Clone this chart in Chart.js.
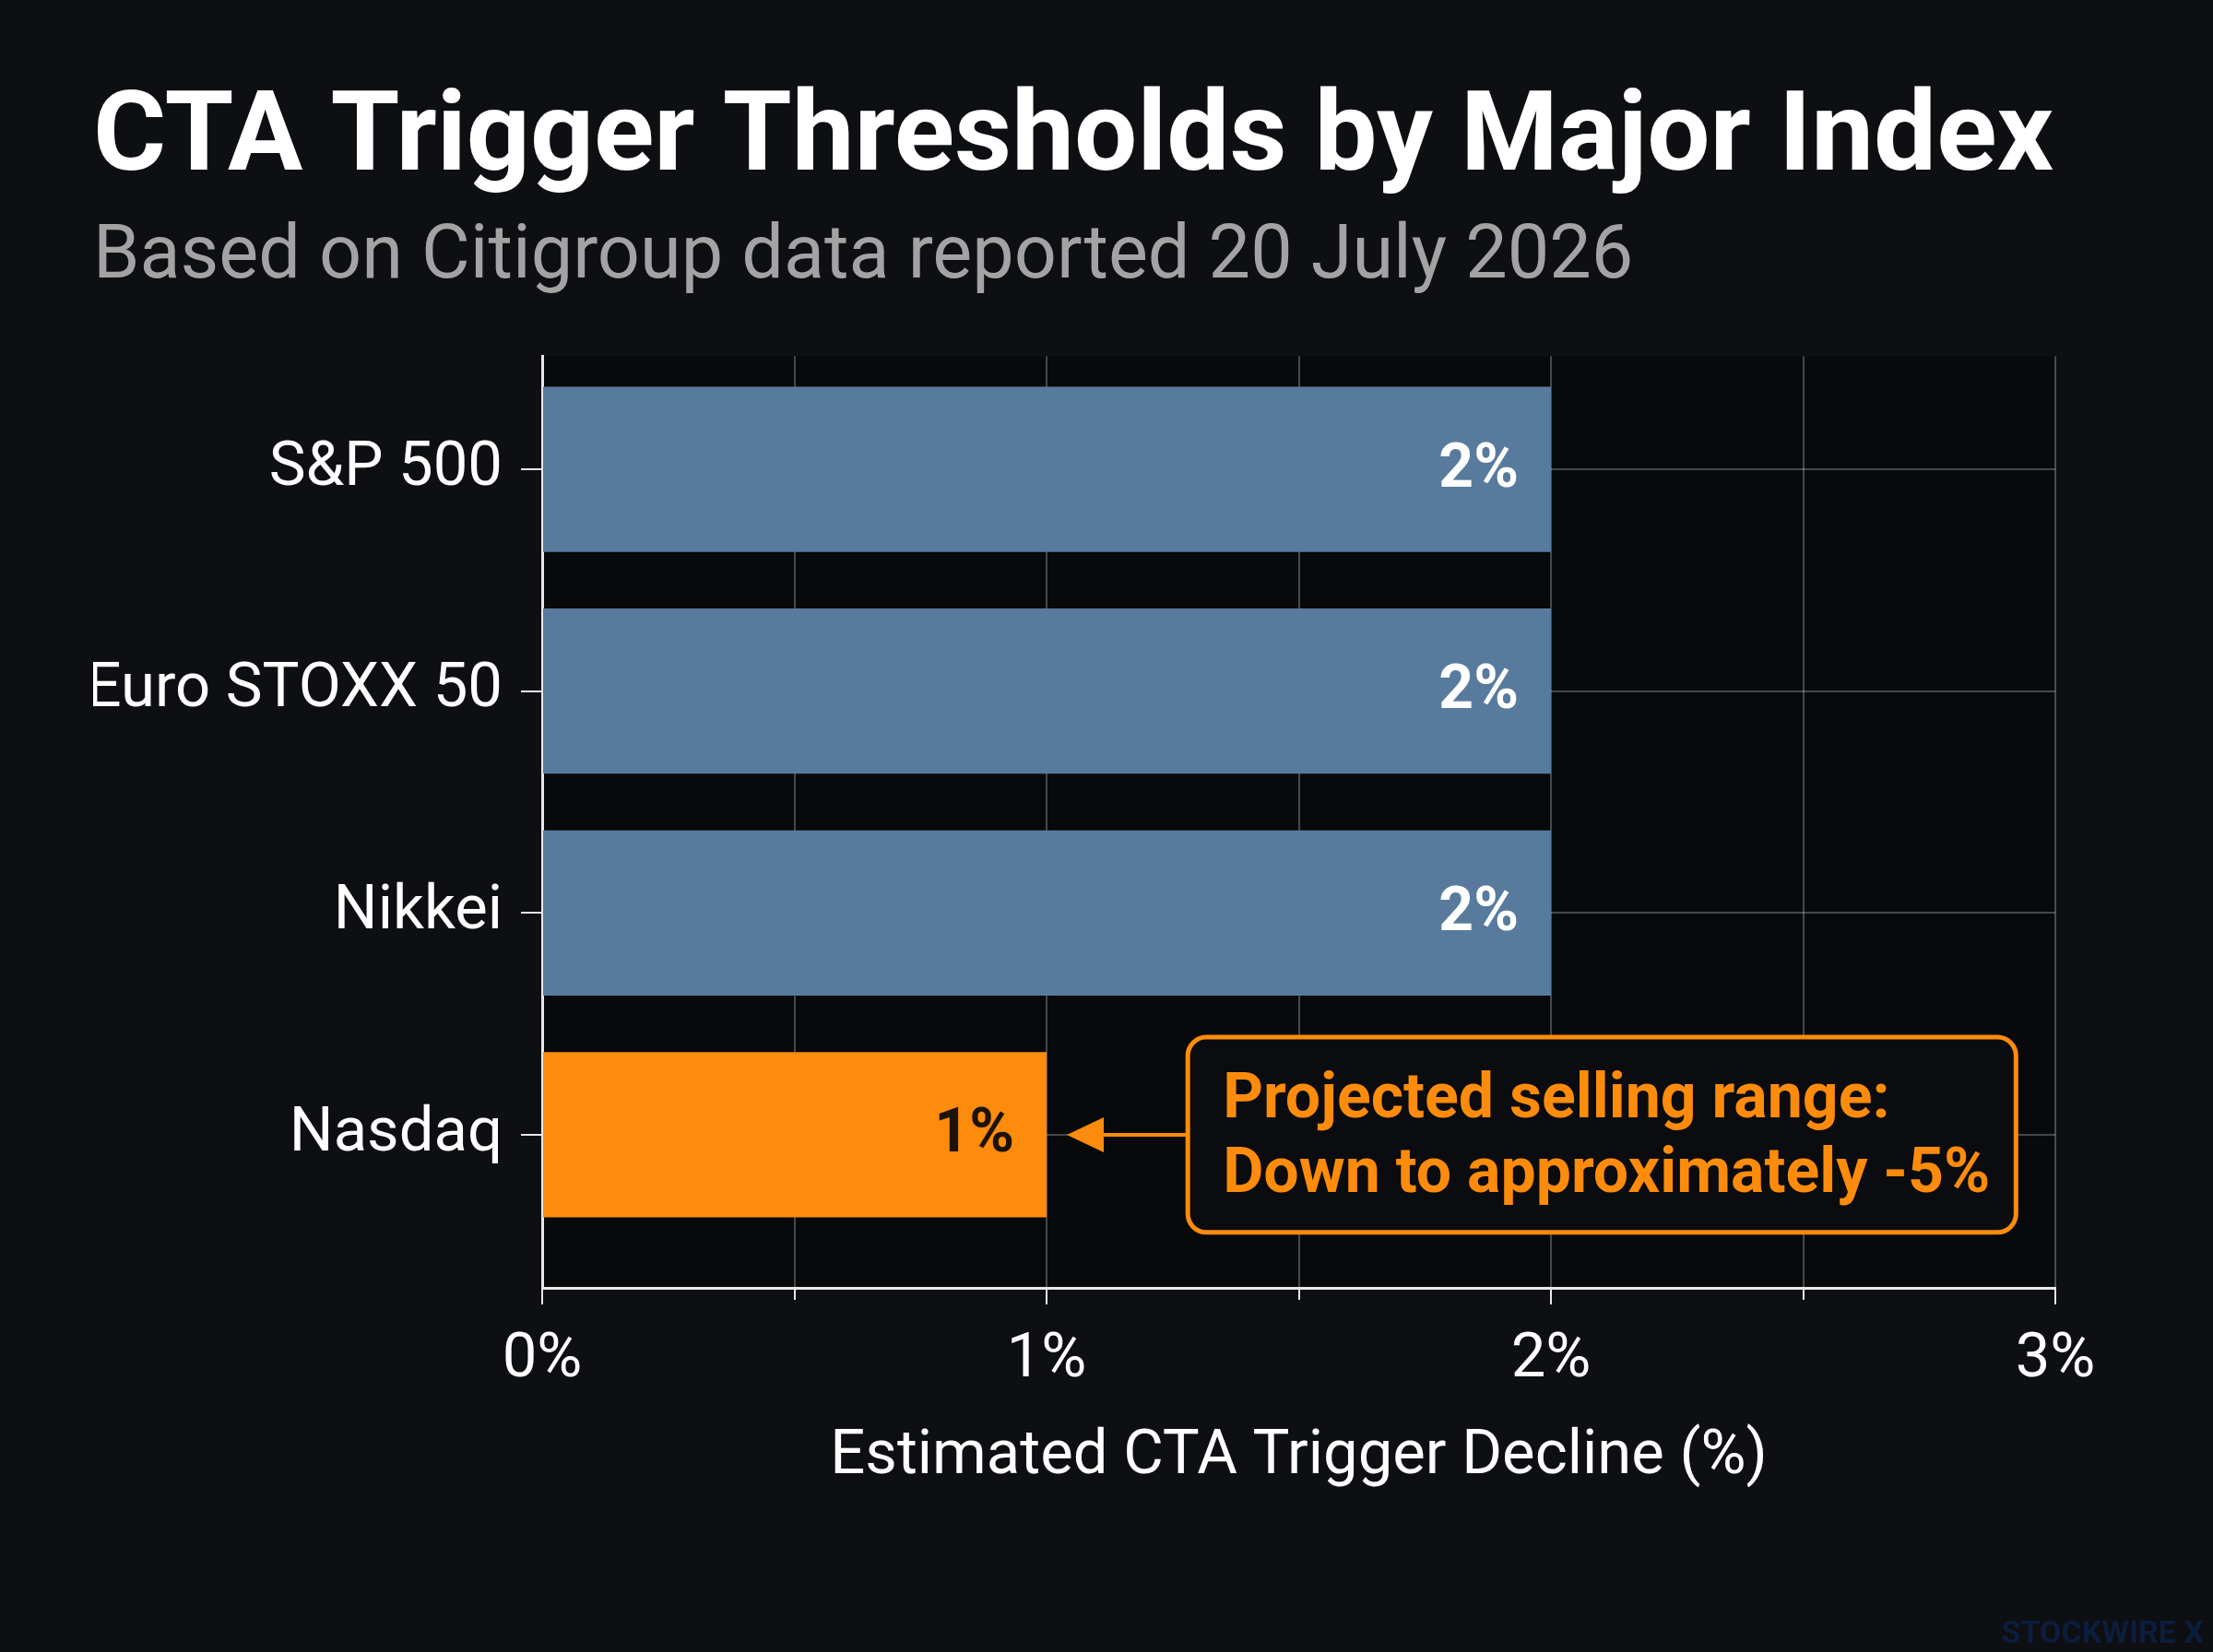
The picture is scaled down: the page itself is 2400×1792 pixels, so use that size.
<!DOCTYPE html>
<html>
<head>
<meta charset="utf-8">
<script src="https://cdn.jsdelivr.net/npm/chart.js@4.4.1/dist/chart.umd.min.js"></script>
<style>
  html, body { margin: 0; padding: 0; background: #0d0f13; }
  #wrap { width: 2400px; height: 1792px; position: relative; }
</style>
</head>
<body>
<div id="wrap"><canvas id="ctaChart"></canvas></div>
<script>
// Daten
const indices = ['S&P 500', 'Euro STOXX 50', 'Nikkei', 'Nasdaq'];
const thresholds = [2, 2, 2, 1];
const xTicks = [0, 0.5, 1, 1.5, 2, 2.5, 3];
const calloutLines = ['Projected selling range:', 'Down to approximately -5%'];

const BLUE = '#587b9d';
const ORANGE = '#fd8b0c';
const barColors = thresholds.map((v, i) => i === indices.length - 1 ? ORANGE : BLUE);
const labelColors = thresholds.map((v, i) => i === indices.length - 1 ? '#1c1206' : '#ffffff');

Chart.defaults.font.family = 'Roboto';
Chart.defaults.color = '#ffffff';

// Hintergrund
const bgPlugin = {
    id: 'bg',
    beforeDraw(chart) {
        const ctx = chart.ctx;
        ctx.save();
        ctx.fillStyle = '#0d0f13';
        ctx.fillRect(0, 0, chart.width, chart.height);
        const a = chart.chartArea;
        ctx.fillStyle = 'rgba(0,0,0,0.4)';
        ctx.fillRect(a.left, a.top, a.right - a.left, a.bottom - a.top);
        ctx.restore();
    },
    afterDraw(chart) {
        const ctx = chart.ctx;
        ctx.save();
        ctx.font = 'bold 34px Roboto';
        ctx.fillStyle = '#0d1d3d';
        ctx.textAlign = 'right';
        ctx.textBaseline = 'alphabetic';
        ctx.fillText('STOCKWIRE X', 2390, 1782);
        ctx.restore();
    }
};

// Werte an den Balken
const valueLabels = {
    id: 'valueLabels',
    afterDatasetsDraw(chart) {
        const ctx = chart.ctx;
        const meta = chart.getDatasetMeta(0);
        ctx.save();
        ctx.font = 'bold 66px Roboto';
        ctx.textAlign = 'right';
        ctx.textBaseline = 'middle';
        meta.data.forEach((bar, i) => {
            ctx.fillStyle = labelColors[i];
            ctx.fillText(thresholds[i] + '%', bar.x - 35, bar.y + 2);
        });
        ctx.restore();
    }
};

// Hinweisbox mit Pfeil
const callout = {
    id: 'callout',
    afterDatasetsDraw(chart) {
        const ctx = chart.ctx;
        const xs = chart.scales.x, ys = chart.scales.y;
        const idx = indices.length - 1;
        const left = xs.getPixelForValue(1.28);
        const right = xs.getPixelForValue(2.922);
        const top = ys.getPixelForValue(2.56);
        const bottom = ys.getPixelForValue(3.44);
        const ay = ys.getPixelForValue(idx);
        const tipX = xs.getPixelForValue(thresholds[idx]) + 22;

        ctx.save();
        ctx.beginPath();
        ctx.roundRect(left, top, right - left, bottom - top, 20);
        ctx.fillStyle = '#0b0c0f';
        ctx.fill();
        ctx.lineWidth = 5;
        ctx.strokeStyle = ORANGE;
        ctx.stroke();

        ctx.beginPath();
        ctx.moveTo(left, ay);
        ctx.lineTo(tipX + 30, ay);
        ctx.lineWidth = 4;
        ctx.stroke();
        ctx.beginPath();
        ctx.moveTo(tipX, ay);
        ctx.lineTo(tipX + 40, ay - 19);
        ctx.lineTo(tipX + 40, ay + 19);
        ctx.closePath();
        ctx.fillStyle = ORANGE;
        ctx.fill();

        ctx.font = 'bold 68px Roboto';
        ctx.fillStyle = ORANGE;
        ctx.textAlign = 'left';
        ctx.textBaseline = 'alphabetic';
        ctx.fillText(calloutLines[0], left + 38, top + 87);
        ctx.fillText(calloutLines[1], left + 38, top + 168);
        ctx.restore();
    }
};

new Chart(document.getElementById('ctaChart'), {
    type: 'bar',
    data: {
        datasets: [{
            data: thresholds.map((v, i) => ({ x: v, y: i })),
            backgroundColor: barColors,
            borderWidth: 0,
            barPercentage: 0.745,
            categoryPercentage: 1
        }]
    },
    options: {
        indexAxis: 'y',
        responsive: true,
        maintainAspectRatio: false,
        animation: false,
        layout: { padding: { top: 81, left: 101, right: 171, bottom: 0 } },
        plugins: {
            legend: { display: false },
            tooltip: { enabled: false },
            title: {
                display: true,
                text: 'CTA Trigger Thresholds by Major Index',
                align: 'start',
                color: '#ffffff',
                font: { size: 121, weight: 'bold' },
                padding: { top: 0, bottom: 6 }
            },
            subtitle: {
                display: true,
                text: 'Based on Citigroup data reported 20 July 2026',
                align: 'start',
                color: '#a3a3a3',
                font: { size: 81 },
                padding: { top: 0, bottom: 57 }
            }
        },
        scales: {
            x: {
                type: 'linear',
                min: 0,
                max: 3,
                afterBuildTicks: (axis) => { axis.ticks = xTicks.map(v => ({ value: v })); },
                afterFit: (axis) => { axis.height = 395; },
                border: { color: '#e8e8e8', width: 3 },
                grid: {
                    color: 'rgba(255,255,255,0.26)',
                    lineWidth: 2,
                    tickColor: '#e8e8e8',
                    tickWidth: 2,
                    tickLength: 18,
                    tickBorderDash: (c) => Number.isInteger(c.tick.value) ? [] : [11, 60]
                },
                ticks: {
                    color: '#ffffff',
                    font: { size: 67 },
                    padding: 21,
                    maxRotation: 0,
                    autoSkip: false,
                    callback: (v) => Number.isInteger(v) ? v + '%' : ''
                },
                title: {
                    display: true,
                    text: 'Estimated CTA Trigger Decline (%)',
                    color: '#ffffff',
                    font: { size: 67 },
                    padding: { top: 0, bottom: 171 }
                }
            },
            y: {
                type: 'linear',
                min: -0.51,
                max: 3.69,
                reverse: true,
                offset: false,
                afterBuildTicks: (axis) => { axis.ticks = indices.map((c, i) => ({ value: i })); },
                afterFit: (axis) => { axis.width = 487; },
                border: { color: '#e8e8e8', width: 3 },
                grid: {
                    offset: false,
                    color: 'rgba(255,255,255,0.26)',
                    lineWidth: 2,
                    tickColor: '#e8e8e8',
                    tickWidth: 2,
                    tickLength: 23
                },
                ticks: {
                    color: '#ffffff',
                    font: { size: 67 },
                    padding: 20,
                    autoSkip: false,
                    callback: (v) => indices[v] ?? ''
                }
            }
        }
    },
    plugins: [bgPlugin, valueLabels, callout]
});
</script>
</body>
</html>
